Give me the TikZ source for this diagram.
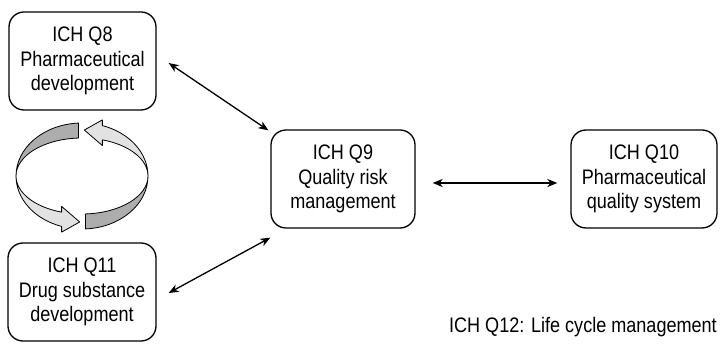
\documentclass[tikz,border=0pt]{standalone}
\usepackage{fontspec}
\setmainfont{Liberation Sans}[FakeStretch=0.86]
\usetikzlibrary{arrows.meta}
\definecolor{ribbondark}{HTML}{ADADAD}
\definecolor{ribbonlight}{HTML}{E2E2E2}
\begin{document}
\begin{tikzpicture}[x=1pt,y=1pt,
  docbox/.style={draw, line width=1.3pt, rounded corners=15pt, minimum height=98pt,
    align=center, inner sep=0pt, font=\fontsize{21}{24.5}\selectfont},
  tip/.tip={Stealth[length=10pt,width=8pt,inset=3pt]},
  link/.style={line width=1.3pt, tip-tip},
  ribbon/.style={draw=black, line width=0.8pt, line join=round}]
\useasboundingbox (0,0) rectangle (720,345);

% guideline documents
\node[docbox, minimum width=147pt] (q8)  at (82.5,284) {ICH Q8\\Pharmaceutical\\development};
\node[docbox, minimum width=148pt] (q11) at (82,53)    {ICH Q11\\Drug substance\\development};
\node[docbox, minimum width=144pt] (q9)  at (343,166)  {ICH Q9\\Quality risk\\management};
\node[docbox, minimum width=146pt] (q10) at (644,166)  {ICH Q10\\Pharmaceutical\\quality system};
\node[anchor=base east, inner sep=0pt, font=\fontsize{21}{24.5}\selectfont] (q12) at (717,12)
  {ICH Q12: Life cycle management};

% two-way links
\draw[link] ([shift={(12,-2)}]q8.east) -- ([shift={(-2,-1)}]q9.north west);
\draw[link] ([shift={(12,-1)}]q11.east) -- ([shift={(0,-9)}]q9.south west);
\draw[link] ([shift={(17,-4)}]q9.east) -- ([shift={(-13,-4)}]q10.west);

% twisted ribbon cycle between Q8 and Q11
% outer edge: ellipse rx 66, ry 53; inner edge: rx 66, ry 38; centre (82,169)
\filldraw[ribbon, fill=ribbondark]
  ({82+66*cos(93)},{169+53*sin(93)})
  arc[start angle=93, end angle=180, x radius=66, y radius=53]
  arc[start angle=180, end angle=93, x radius=66, y radius=38] -- cycle;
\filldraw[ribbon, fill=ribbonlight]
  (16,169)
  arc[start angle=180, end angle=252, x radius=66, y radius=53]
  -- ({82+66*cos(252)},{169+59*sin(252)})
  -- ({82+66*cos(268)},{169+46*sin(268)})
  -- ({82+66*cos(252)},{169+32*sin(252)})
  -- ({82+66*cos(252)},{169+38*sin(252)})
  arc[start angle=252, end angle=180, x radius=66, y radius=38] -- cycle;

\filldraw[ribbon, fill=ribbondark]
  ({82+66*cos(273)},{169+53*sin(273)})
  arc[start angle=273, end angle=360, x radius=66, y radius=53]
  arc[start angle=360, end angle=273, x radius=66, y radius=38] -- cycle;
\filldraw[ribbon, fill=ribbonlight]
  (148,169)
  arc[start angle=0, end angle=72, x radius=66, y radius=53]
  -- ({82+66*cos(72)},{169+59*sin(72)})
  -- ({82+66*cos(88)},{169+46*sin(88)})
  -- ({82+66*cos(72)},{169+32*sin(72)})
  -- ({82+66*cos(72)},{169+38*sin(72)})
  arc[start angle=72, end angle=0, x radius=66, y radius=38] -- cycle;
\end{tikzpicture}
\end{document}
